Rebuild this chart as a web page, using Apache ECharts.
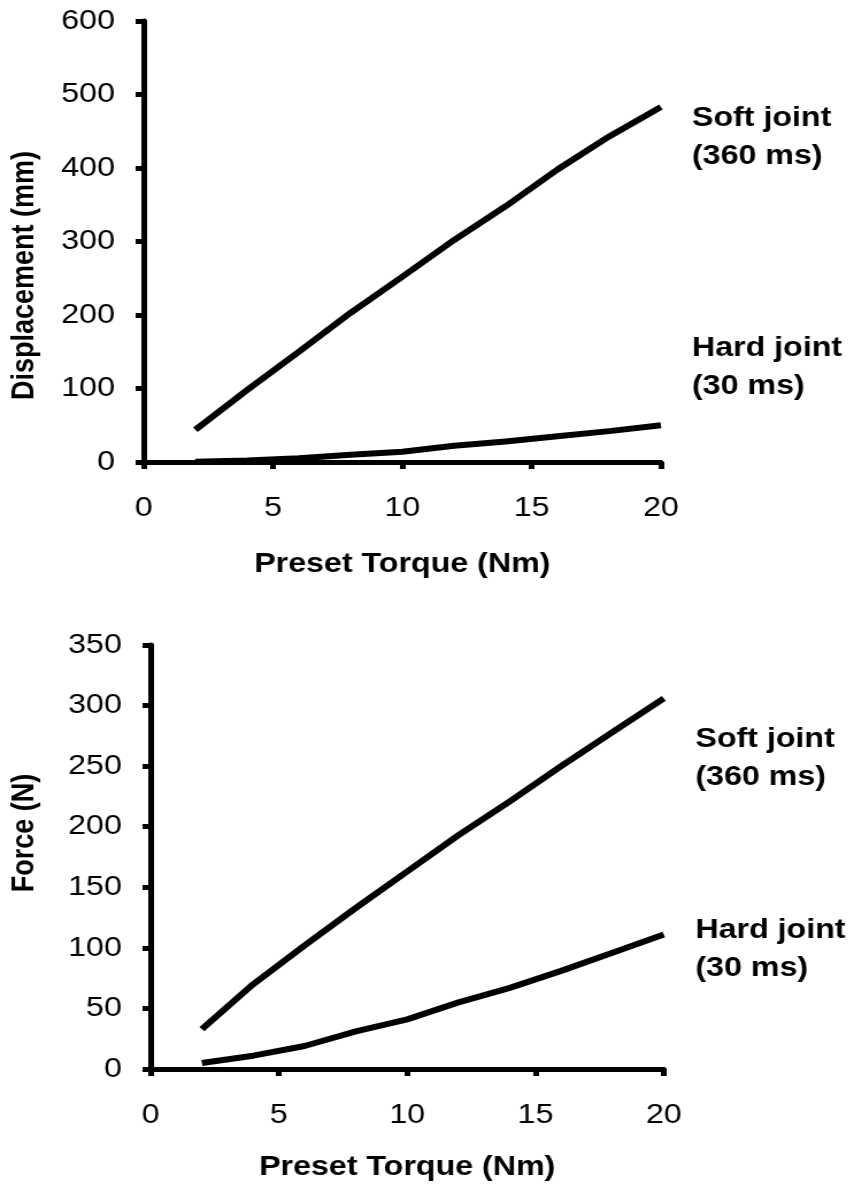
<!DOCTYPE html>
<html>
<head>
<meta charset="utf-8">
<script src="https://cdn.jsdelivr.net/npm/echarts@6/dist/echarts.min.js"></script>
<style>
html,body{margin:0;padding:0;background:#fff;overflow:hidden;}
#wrap{width:854px;height:1185px;overflow:hidden;}
/* the reference figure is stretched horizontally; reproduce that aspect */
#chart{width:743px;height:1185px;transform:scaleX(1.1494);transform-origin:0 0;}
</style>
</head>
<body>
<div id="wrap"><div id="chart"></div></div>
<script>
// Data
var torque = [2, 4, 6, 8, 10, 12, 14, 16, 18, 20];
var dispSoft = [44, 98, 150, 203, 252, 302, 348, 398, 443, 483];
var dispHard = [0.5, 2, 5, 10, 14, 22, 28, 35, 42, 50];
var forceSoft = [33, 70, 102, 133, 163, 193, 221, 250, 278, 306];
var forceHard = [5, 11, 19, 31, 41, 55, 67, 81, 96, 111];
var xTitle = 'Preset Torque (Nm)';
var yTitleTop = 'Displacement (mm)';
var yTitleBottom = 'Force (N)';
var softLabel = ['Soft joint', '(360 ms)'];
var hardLabel = ['Hard joint', '(30 ms)'];

function pairs(xs, ys) { return xs.map(function (x, i) { return [x, ys[i]]; }); }

var FONT = '"Liberation Sans", Arial, Helvetica, sans-serif';
var axisLine = { show: true, onZero: false, lineStyle: { color: '#000', width: 5 } };
var axisTick = { show: true, inside: false, length: 7, lineStyle: { color: '#000', width: 5 } };
var tickLabel = function (m) { return { color: '#000', fontSize: 28, fontFamily: FONT, margin: m }; };
var xNameStyle = { color: '#000', fontSize: 28, fontWeight: 'bold', fontFamily: FONT };

function xAxis(gi, gap) {
  return {
    type: 'value', gridIndex: gi, min: 0, max: 20, interval: 5,
    axisLine: axisLine, axisTick: axisTick, axisLabel: tickLabel(32),
    splitLine: { show: false },
    name: xTitle, nameLocation: 'middle', nameGap: gap, nameTextStyle: xNameStyle
  };
}
function yAxis(gi, max, interval, name, gap, pad) {
  return {
    type: 'value', gridIndex: gi, min: 0, max: max, interval: interval,
    axisLine: axisLine, axisTick: axisTick, axisLabel: tickLabel(25),
    splitLine: { show: false },
    name: name, nameLocation: 'middle', nameGap: gap,
    nameTextStyle: { color: '#000', fontSize: 27, fontWeight: 'bold', fontFamily: FONT, padding: pad }
  };
}
function line(xi, yi, data) {
  return {
    type: 'line', xAxisIndex: xi, yAxisIndex: yi, data: data,
    showSymbol: false, symbol: 'none', smooth: false,
    lineStyle: { color: '#000', width: 6, cap: 'butt', join: 'round' },
    z: 3, silent: true
  };
}
function label(x, y, lines) {
  return {
    type: 'text', left: x, top: y,
    style: { text: lines.join('\n'), fill: '#000', font: 'bold 28px ' + FONT, lineHeight: 38 }
  };
}

var chart = echarts.init(document.getElementById('chart'), null, { renderer: 'canvas' });
chart.setOption({
  backgroundColor: '#fff',
  animation: false,
  grid: [
    { left: 122, width: 453, top: 21, height: 441 },
    { left: 127.5, width: 450, top: 645, height: 424 }
  ],
  xAxis: [xAxis(0, 88), xAxis(1, 84)],
  yAxis: [
    yAxis(0, 600, 100, yTitleTop, 90, [0, 68, 0, 0]),
    yAxis(1, 350, 50, yTitleBottom, 96, [0, 0, 0, 48])
  ],
  series: [
    line(0, 0, pairs(torque, dispSoft)),
    line(0, 0, pairs(torque, dispHard)),
    line(1, 1, pairs(torque, forceSoft)),
    line(1, 1, pairs(torque, forceHard))
  ],
  graphic: [
    label(602, 99, softLabel),
    label(602, 329, hardLabel),
    label(605, 720, softLabel),
    label(605, 911, hardLabel)
  ]
});
</script>
</body>
</html>
